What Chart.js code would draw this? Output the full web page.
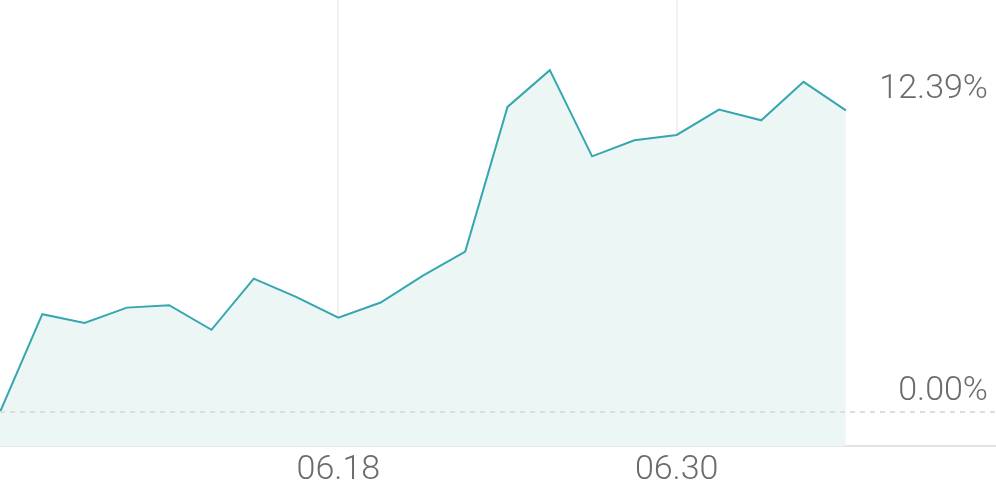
<!DOCTYPE html>
<html>
<head>
<meta charset="utf-8">
<script src="https://cdn.jsdelivr.net/npm/chart.js@4"></script>
<style>
html,body{margin:0;padding:0;background:#fff;}
#wrap{width:996px;height:490px;}
</style>
</head>
<body>
<div id="wrap"><canvas id="returnChart" width="996" height="490"></canvas></div>
<script>
/* DATA */
const dates = ['06.06','06.09','06.10','06.11','06.12','06.13','06.16','06.17','06.18','06.19','06.20',
               '06.23','06.24','06.25','06.26','06.27','06.30','07.01','07.02','07.03','07.04'];
const returns = [0.00,4.02,3.66,4.29,4.39,3.38,5.48,4.73,3.88,4.50,5.60,
                 6.59,12.53,14.04,10.50,11.16,11.38,12.42,11.98,13.56,12.39];
const shownDates = ['06.18','06.30'];
const markLevels = [0, returns[returns.length-1]];

const lineColor = '#36a6af';
const fillColor = '#ecf6f5';
const textColor = '#6b6b6b';
const labelFont = {family:'Roboto', size:34, weight:'300'};

/* right side value labels */
const levelLabels = {
  id:'levelLabels',
  afterDraw(chart){
    const c = chart.ctx, y = chart.scales.y, area = chart.chartArea;
    c.save();
    c.font = '300 34px Roboto';
    c.fillStyle = textColor;
    c.textAlign = 'right';
    c.textBaseline = 'middle';
    markLevels.forEach(v=>{
      c.fillText(v.toFixed(2)+'%', area.right-8, y.getPixelForValue(v)-21);
    });
    c.restore();
  }
};

new Chart(document.getElementById('returnChart'),{
  type:'line',
  data:{
    datasets:[{
      data:returns.map((v,i)=>({x:i,y:v})),
      borderColor:lineColor,
      borderWidth:2,
      backgroundColor:fillColor,
      fill:'start',
      pointRadius:0,
      tension:0
    }]
  },
  options:{
    responsive:false,
    animation:false,
    events:[],
    layout:{padding:{top:0,left:0,right:0,bottom:-5}},
    plugins:{legend:{display:false},tooltip:{enabled:false}},
    scales:{
      x:{
        type:'linear',
        min:0,
        max:returns.length-1+3.55,
        afterBuildTicks(s){ s.ticks = shownDates.map(d=>({value:dates.indexOf(d)})); },
        ticks:{
          callback:(v)=>dates[v],
          font:labelFont,
          color:textColor,
          padding:4,
          maxRotation:0,
          autoSkip:false
        },
        grid:{color:'#f1f1f1', lineWidth:2, drawTicks:false},
        border:{display:true, color:'#e4e4e4', width:2}
      },
      y:{
        position:'right',
        min:-1.4,
        max:16.92,
        afterBuildTicks(s){ s.ticks = markLevels.map(v=>({value:v})); },
        ticks:{display:false},
        grid:{
          z:1,
          color:(ctx)=>ctx.tick && ctx.tick.value===0 ? '#dddddd' : 'rgba(0,0,0,0)',
          lineWidth:2,
          drawTicks:false
        },
        border:{display:false, dash:[5,5]}
      }
    }
  },
  plugins:[levelLabels]
});
</script>
</body>
</html>
